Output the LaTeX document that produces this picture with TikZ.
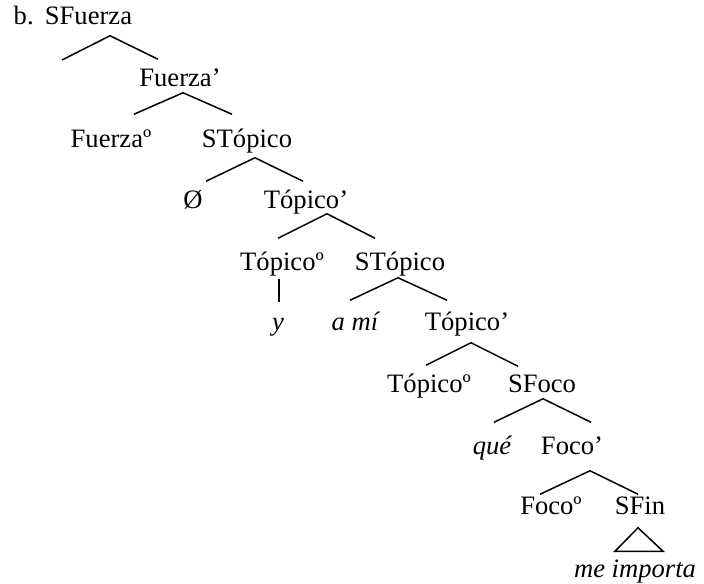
\documentclass[tikz,border=0pt]{standalone}
\usepackage{fontspec}
\setmainfont{Liberation Serif}
\usetikzlibrary{calc}

\begin{document}
\begin{tikzpicture}[x=0.5pt, y=-0.5pt, line width=0.75pt, font=\fontsize{13.3}{16}\selectfont]
  % Styles
  \tikzstyle{cat} = [anchor=base, inner sep=0pt, text height=14.5pt, text depth=4pt]
  \tikzstyle{lex} = [cat, font=\fontsize{13.3}{16}\selectfont\itshape]
  \tikzstyle{branch} = [draw, line join=miter]

  \useasboundingbox (0,0) rectangle (704,583);

  % Nodes
  \node[cat, anchor=base west] (ej) at (13,25) {b.};
  \node[cat] (sfza) at (88.5,25) {SFuerza};
  \node[cat] (fza1) at (180,86) {Fuerza’};
  \node[cat] (fza0) at (111,147) {Fuerzaº};
  \node[cat] (stop1) at (247,147) {STópico};
  \node[cat] (nulo) at (193,208) {Ø};
  \node[cat] (top1) at (306,208) {Tópico’};
  \node[cat] (top0a) at (282,270) {Tópicoº};
  \node[cat] (stop2) at (400,270) {STópico};
  \node[lex] (y) at (278,330) {y};
  \node[lex] (ami) at (355,330) {a mí};
  \node[cat] (top2) at (467,330) {Tópico’};
  \node[cat] (top0b) at (429,392) {Tópicoº};
  \node[cat] (sfoco) at (542,392) {SFoco};
  \node[lex] (que) at (492,454) {qué};
  \node[cat] (foco1) at (572,454) {Foco’};
  \node[cat] (foco0) at (551,514) {Focoº};
  \node[cat] (sfin) at (640,514) {SFin};
  \node[lex] (meimp) at (635,577) {me importa};

  % empty left daughter of SFuerza
  \coordinate (vacio) at (62,60);

  % Branches
  \path[branch] (vacio) -- ($(sfza.south)+(21.5,2)$) -- ($(fza1.north)+(-22,3)$);
  \path[branch] ($(fza0.north)+(23,-3)$) -- ($(fza1.south)+(3,-2)$) -- ($(stop1.north)+(-15,-3)$);
  \path[branch] ($(nulo.north)+(13,3)$) -- ($(stop1.south)+(8,2)$) -- ($(top1.north)+(-3,3)$);
  \path[branch] ($(top0a.north)+(-4,-2)$) -- ($(top1.south)+(21,-3)$) -- ($(stop2.north)+(-25,-2)$);
  \path[branch] ($(top0a.south)+(-3,0)$) -- ($(y.north)+(1,2)$);
  \path[branch] ($(ami.north)+(-5,0)$) -- ($(stop2.south)+(-2,-1)$) -- ($(top2.north)+(-20,0)$);
  \path[branch] ($(top0b.north)+(-3,3)$) -- ($(top2.south)+(4,4)$) -- ($(sfoco.north)+(-24,4)$);
  \path[branch] ($(que.north)+(2,-2)$) -- ($(sfoco.south)+(1,-2)$) -- ($(foco1.north)+(19,-2)$);
  \path[branch] ($(foco0.north)+(-11,10)$) -- ($(foco1.south)+(18,8)$) -- ($(sfin.north)+(-2,10)$);
  \path[branch] ($(sfin.south)+(-2,5)$) -- ($(meimp.north)+(-20,4)$) -- ($(meimp.north)+(28,4)$) -- cycle;

\end{tikzpicture}
\end{document}
